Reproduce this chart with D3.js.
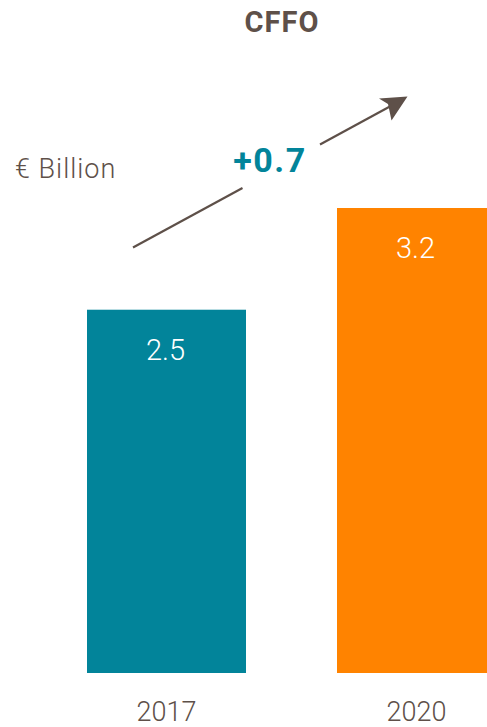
<!DOCTYPE html>
<html>
<head>
<meta charset="utf-8">
<script src="https://cdn.jsdelivr.net/npm/d3@7"></script>
<style>
  html, body { margin: 0; padding: 0; background: #ffffff; }
  svg { display: block; }
</style>
</head>
<body>
<script>
// CFFO comparison, € billion
const years = ["2017", "2020"];
const cffo = [2.5, 3.2];
const barColors = ["#02849a", "#ff8300"];
const changeLabel = "+0.7";
const unitLabel = "€ Billion";
const title = "CFFO";

const W = 487, H = 727;
const ink = "#5e5049";

const svg = d3.select("body").append("svg")
  .attr("width", W).attr("height", H);

// Bars run from a baseline near the bottom; the second bar runs off the right edge
const x = d3.scaleBand().domain(years).range([87, 496]).paddingInner(0.364).paddingOuter(0);
const y = d3.scaleLinear().domain([0, 3.2]).range([673, 208]);

const data = years.map((yr, i) => ({ year: yr, value: cffo[i], color: barColors[i] }));

svg.selectAll("rect.bar").data(data).join("rect")
  .attr("class", "bar")
  .attr("x", d => x(d.year))
  .attr("y", d => y(d.value))
  .attr("width", x.bandwidth())
  .attr("height", d => y(0) - y(d.value))
  .attr("fill", d => d.color);

// Value labels inside the bar tops
svg.selectAll("text.val").data(data).join("text")
  .attr("class", "val")
  .attr("x", d => x(d.year) + x.bandwidth() / 2 - 1)
  .attr("y", d => y(d.value) + 50)
  .attr("text-anchor", "middle")
  .attr("fill", "#ffffff")
  .style("font-family", "Roboto, 'Noto Sans', sans-serif")
  .style("font-weight", 300)
  .style("font-size", "29px")
  .text(d => d.value.toFixed(1));

// Category axis labels below the bars
const xAxis = d3.axisBottom(x).tickSize(0).tickPadding(0);
const gx = svg.append("g").attr("transform", `translate(0, ${y(0) + 48})`).call(xAxis);
gx.select(".domain").remove();
gx.selectAll("text")
  .attr("dy", 0)
  .attr("fill", ink)
  .style("font-family", "Roboto, 'Noto Sans', sans-serif")
  .style("font-weight", 300)
  .style("font-size", "27px");

// Title
svg.append("text")
  .attr("x", 282).attr("y", 32)
  .attr("text-anchor", "middle")
  .attr("fill", ink)
  .style("font-family", "Roboto, 'Noto Sans', sans-serif")
  .style("font-weight", 700)
  .style("font-size", "29px")
  .style("letter-spacing", "1px")
  .text(title);

// Unit label
svg.append("text")
  .attr("x", 15).attr("y", 178)
  .attr("fill", ink)
  .style("font-family", "Roboto, 'Noto Sans', sans-serif")
  .style("font-weight", 300)
  .style("font-size", "27px")
  .style("letter-spacing", "1px")
  .text(unitLabel);

// Growth arrow, split around the change label
const arrow = svg.append("g").attr("stroke", ink).attr("stroke-width", 2.2).attr("fill", "none");
arrow.append("line").attr("x1", 133).attr("y1", 247.5).attr("x2", 242.5).attr("y2", 188);
arrow.append("line").attr("x1", 320).attr("y1", 144.5).attr("x2", 400).attr("y2", 101);
svg.append("path")
  .attr("d", "M407.5,96.5 L379,98.5 L388,104 L391.5,120.5 Z")
  .attr("fill", ink);

svg.append("text")
  .attr("x", 270).attr("y", 172)
  .attr("text-anchor", "middle")
  .attr("fill", "#02849a")
  .style("font-family", "Roboto, 'Noto Sans', sans-serif")
  .style("font-weight", 700)
  .style("font-size", "34px")
  .style("letter-spacing", "1.5px")
  .text(changeLabel);
</script>
</body>
</html>
